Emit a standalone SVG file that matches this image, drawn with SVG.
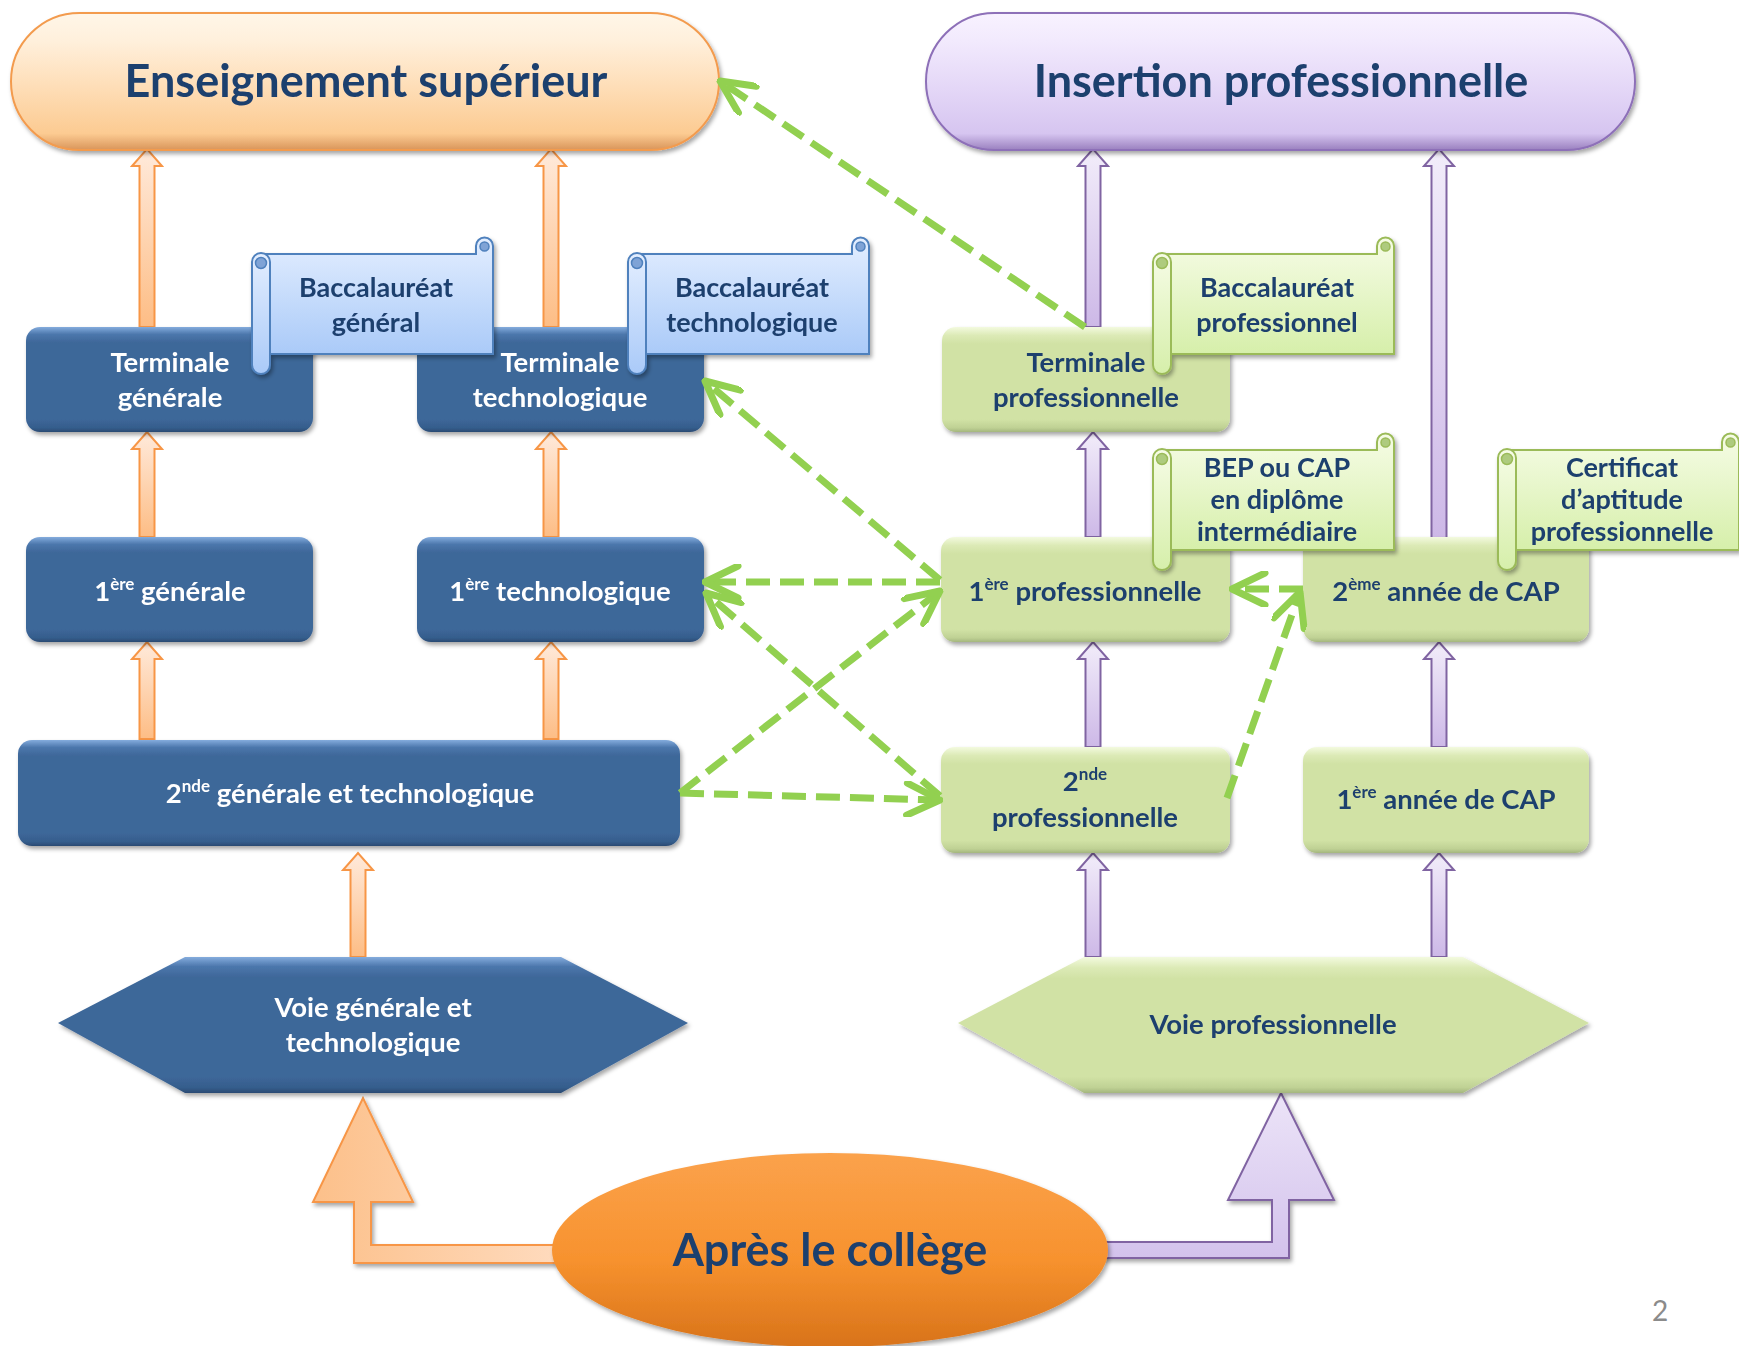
<svg xmlns="http://www.w3.org/2000/svg" width="1739" height="1346" viewBox="0 0 1739 1346">
<defs>
<style>
.t{font-family:Lato,"Open Sans","Liberation Sans",sans-serif;font-weight:bold;text-anchor:middle}
.tw{fill:#ffffff}
.td{fill:#1F3F6E}
.s26{font-size:27.5px}
.s25{font-size:27px}
.title{font-size:45px}
.sup{font-size:17px}
.dash{fill:none;stroke:#92D050;stroke-width:7;stroke-dasharray:24 10;marker-end:url(#ah)}
.ao{fill:url(#gArrO);stroke:#F79646;stroke-width:2}
.ap{fill:url(#gArrP);stroke:#8064A2;stroke-width:2}
.bb{fill:url(#gBlue)}
.bg{fill:url(#gGreen)}
</style>
<linearGradient id="gBlue" x1="0" y1="0" x2="0" y2="1">
<stop offset="0" stop-color="#84ACDD"/>
<stop offset="0.07" stop-color="#4C77AC"/>
<stop offset="0.15" stop-color="#3E6799"/>
<stop offset="0.88" stop-color="#3E6799"/>
<stop offset="0.96" stop-color="#355D8C"/>
<stop offset="1" stop-color="#2A4A72"/>
</linearGradient>
<linearGradient id="gGreen" x1="0" y1="0" x2="0" y2="1">
<stop offset="0" stop-color="#F3FADF"/>
<stop offset="0.08" stop-color="#DCEAB6"/>
<stop offset="0.16" stop-color="#D1E2A5"/>
<stop offset="0.88" stop-color="#D1E2A5"/>
<stop offset="0.96" stop-color="#BFD194"/>
<stop offset="1" stop-color="#A4B67E"/>
</linearGradient>
<linearGradient id="gScrB" x1="0" y1="0" x2="0" y2="1">
<stop offset="0" stop-color="#E3EEFF"/>
<stop offset="1" stop-color="#AACAF8"/>
</linearGradient>
<linearGradient id="gScrG" x1="0" y1="0" x2="0" y2="1">
<stop offset="0" stop-color="#F6FCE6"/>
<stop offset="1" stop-color="#D6EFAA"/>
</linearGradient>
<linearGradient id="gPillO" x1="0" y1="0" x2="0" y2="1">
<stop offset="0" stop-color="#FFF6E8"/>
<stop offset="0.2" stop-color="#FFF0DC"/>
<stop offset="0.55" stop-color="#FEDDB6"/>
<stop offset="0.88" stop-color="#FCCB92"/>
<stop offset="1" stop-color="#D9955A"/>
</linearGradient>
<linearGradient id="gPillP" x1="0" y1="0" x2="0" y2="1">
<stop offset="0" stop-color="#F8F2FF"/>
<stop offset="0.2" stop-color="#F2EAFD"/>
<stop offset="0.55" stop-color="#E4D7F7"/>
<stop offset="0.88" stop-color="#D6C5F0"/>
<stop offset="1" stop-color="#9A80BF"/>
</linearGradient>
<linearGradient id="gArrO" x1="0" y1="0" x2="0" y2="1">
<stop offset="0" stop-color="#FFEADB"/>
<stop offset="1" stop-color="#FDBD85"/>
</linearGradient>
<linearGradient id="gArrP" x1="0" y1="0" x2="0" y2="1">
<stop offset="0" stop-color="#F2EDFA"/>
<stop offset="1" stop-color="#CDB8E7"/>
</linearGradient>
<linearGradient id="gBigO" x1="0" y1="0" x2="1" y2="0">
<stop offset="0" stop-color="#FCC08A"/>
<stop offset="1" stop-color="#FFDDC2"/>
</linearGradient>
<linearGradient id="gBigP" x1="0" y1="0" x2="0" y2="1">
<stop offset="0" stop-color="#ECE4F8"/>
<stop offset="1" stop-color="#D3C2EC"/>
</linearGradient>
<linearGradient id="gEll" x1="0" y1="0" x2="0" y2="1">
<stop offset="0" stop-color="#FBA24C"/>
<stop offset="0.55" stop-color="#F7922E"/>
<stop offset="1" stop-color="#D8731A"/>
</linearGradient>
<filter id="sh" x="-5%" y="-10%" width="115%" height="130%">
<feDropShadow dx="2" dy="3" stdDeviation="2" flood-color="#000000" flood-opacity="0.35"/>
</filter>
<marker id="ah" viewBox="0 0 40 36" refX="37" refY="18" markerWidth="40" markerHeight="36" markerUnits="userSpaceOnUse" orient="auto">
<path d="M4,2 L37,18 L4,34" fill="none" stroke="#92D050" stroke-width="7" stroke-linecap="round" stroke-linejoin="round"/>
</marker>
<g id="scrollB">
<path d="M9,17 H224 V9 A8.5,8.5 0 0 1 241,9 V117 H9 Z" fill="url(#gScrB)" stroke="#4F81BD" stroke-width="2"/>
<circle cx="232.5" cy="9.5" r="4.5" fill="#7FA3D6" stroke="#4F81BD" stroke-width="1.5"/>
<rect x="0" y="16" width="18" height="121" rx="9" fill="url(#gScrB)" stroke="#4F81BD" stroke-width="2"/>
<circle cx="9" cy="26" r="5.5" fill="#7FA3D6" stroke="#4F81BD" stroke-width="1.5"/>
</g>
<g id="scrollG">
<path d="M9,17 H224 V9 A8.5,8.5 0 0 1 241,9 V117 H9 Z" fill="url(#gScrG)" stroke="#9BBB59" stroke-width="2"/>
<circle cx="232.5" cy="9.5" r="4.5" fill="#AECB7E" stroke="#9BBB59" stroke-width="1.5"/>
<rect x="0" y="16" width="18" height="121" rx="9" fill="url(#gScrG)" stroke="#9BBB59" stroke-width="2"/>
<circle cx="9" cy="26" r="5.5" fill="#AECB7E" stroke="#9BBB59" stroke-width="1.5"/>
</g>
</defs>

<rect x="0" y="0" width="1739" height="1346" fill="#FFFFFF"/>

<g id="connectors-block">
<path class="ao" d="M139.5,327 V166 H132 L147,149 L162,166 H154.5 V327 Z"/>
<path class="ao" d="M543.5,327 V166 H536 L551,149 L566,166 H558.5 V327 Z"/>
<path class="ao" d="M139.5,537 V449 H132 L147,432 L162,449 H154.5 V537 Z"/>
<path class="ao" d="M543.5,537 V449 H536 L551,432 L566,449 H558.5 V537 Z"/>
<path class="ao" d="M139.5,739 V659 H132 L147,642 L162,659 H154.5 V739 Z"/>
<path class="ao" d="M543.5,739 V659 H536 L551,642 L566,659 H558.5 V739 Z"/>
<path class="ao" d="M350.5,957 V870 H343 L358,853 L373,870 H365.5 V957 Z"/>
<path class="ap" d="M1085.5,327 V166 H1078 L1093,149 L1108,166 H1100.5 V327 Z"/>
<path class="ap" d="M1431.5,539 V166 H1424 L1439,149 L1454,166 H1446.5 V539 Z"/>
<path class="ap" d="M1085.5,537 V449 H1078 L1093,432 L1108,449 H1100.5 V537 Z"/>
<path class="ap" d="M1085.5,747 V659 H1078 L1093,642 L1108,659 H1100.5 V747 Z"/>
<path class="ap" d="M1431.5,747 V659 H1424 L1439,642 L1454,659 H1446.5 V747 Z"/>
<path class="ap" d="M1085.5,957 V870 H1078 L1093,853 L1108,870 H1100.5 V957 Z"/>
<path class="ap" d="M1431.5,957 V870 H1424 L1439,853 L1454,870 H1446.5 V957 Z"/>
<path d="M580,1245 H371 V1202 H413 L363,1098 L313,1202 H354 V1263 H580 Z" fill="url(#gBigO)" stroke="#F79646" stroke-width="2" filter="url(#sh)"/>
<path d="M1080,1242 H1272 V1200 H1228 L1281,1093 L1334,1200 H1289 V1258 H1080 Z" fill="url(#gBigP)" stroke="#8064A2" stroke-width="2" filter="url(#sh)"/>
</g>

<g id="enseignement-superieur" filter="url(#sh)">
<rect x="11" y="13" width="708" height="137" rx="68.5" fill="url(#gPillO)" stroke="#F39B4E" stroke-width="2"/>
<text x="366" y="97" class="t td title">Enseignement supérieur</text>
</g>
<g id="insertion-professionnelle" filter="url(#sh)">
<rect x="926" y="13" width="709" height="137" rx="68.5" fill="url(#gPillP)" stroke="#8D6FB8" stroke-width="2"/>
<text x="1281" y="97" class="t td title">Insertion professionnelle</text>
</g>

<g id="terminale-generale" filter="url(#sh)">
<rect x="26" y="327" width="287" height="105" rx="14" class="bb"/>
<text x="170" y="372" class="t tw s26">Terminale</text>
<text x="170" y="407" class="t tw s26">générale</text>
</g>
<g id="terminale-technologique" filter="url(#sh)">
<rect x="417" y="327" width="287" height="105" rx="14" class="bb"/>
<text x="560" y="372" class="t tw s26">Terminale</text>
<text x="560" y="407" class="t tw s26">technologique</text>
</g>
<g id="premiere-generale" filter="url(#sh)">
<rect x="26" y="537" width="287" height="105" rx="14" class="bb"/>
<text x="170" y="601" class="t tw s26">1<tspan class="sup" dy="-11">ère</tspan><tspan dy="11"> générale</tspan></text>
</g>
<g id="premiere-technologique" filter="url(#sh)">
<rect x="417" y="537" width="287" height="105" rx="14" class="bb"/>
<text x="560" y="601" class="t tw s26">1<tspan class="sup" dy="-11">ère</tspan><tspan dy="11"> technologique</tspan></text>
</g>
<g id="seconde-gt" filter="url(#sh)">
<rect x="18" y="740" width="662" height="106" rx="14" class="bb"/>
<text x="350" y="803" class="t tw s26">2<tspan class="sup" dy="-11">nde</tspan><tspan dy="11"> générale et technologique</tspan></text>
</g>
<g id="voie-gt" filter="url(#sh)">
<polygon points="58,1023 185,957 561,957 688,1023 561,1093 185,1093" class="bb"/>
<text x="373" y="1017" class="t tw s26">Voie générale et</text>
<text x="373" y="1052" class="t tw s26">technologique</text>
</g>

<g id="terminale-pro" filter="url(#sh)">
<rect x="942" y="327" width="288" height="105" rx="14" class="bg"/>
<text x="1086" y="372" class="t td s26">Terminale</text>
<text x="1086" y="407" class="t td s26">professionnelle</text>
</g>
<g id="premiere-pro" filter="url(#sh)">
<rect x="941" y="537" width="289" height="105" rx="14" class="bg"/>
<text x="1085" y="601" class="t td s26">1<tspan class="sup" dy="-11">ère</tspan><tspan dy="11"> professionnelle</tspan></text>
</g>
<g id="deuxieme-cap" filter="url(#sh)">
<rect x="1303" y="537" width="286" height="105" rx="14" class="bg"/>
<text x="1446" y="601" class="t td s26">2<tspan class="sup" dy="-11">ème</tspan><tspan dy="11"> année de CAP</tspan></text>
</g>
<g id="seconde-pro" filter="url(#sh)">
<rect x="941" y="747" width="289" height="106" rx="14" class="bg"/>
<text x="1085" y="791" class="t td s26">2<tspan class="sup" dy="-11">nde</tspan></text>
<text x="1085" y="827" class="t td s26">professionnelle</text>
</g>
<g id="premiere-cap" filter="url(#sh)">
<rect x="1303" y="747" width="286" height="106" rx="14" class="bg"/>
<text x="1446" y="809" class="t td s26">1<tspan class="sup" dy="-11">ère</tspan><tspan dy="11"> année de CAP</tspan></text>
</g>
<g id="voie-pro" filter="url(#sh)">
<polygon points="958,1023 1084,957 1463,957 1589,1023 1463,1093 1084,1093" class="bg"/>
<text x="1273" y="1034" class="t td s26">Voie professionnelle</text>
</g>

<g id="bac-general" filter="url(#sh)">
<use href="#scrollB" transform="translate(252,237)"/>
<text x="376" y="297" class="t td s25">Baccalauréat</text>
<text x="376" y="332" class="t td s25">général</text>
</g>
<g id="bac-techno" filter="url(#sh)">
<use href="#scrollB" transform="translate(628,237)"/>
<text x="752" y="297" class="t td s25">Baccalauréat</text>
<text x="752" y="332" class="t td s25">technologique</text>
</g>
<g id="bac-pro" filter="url(#sh)">
<use href="#scrollG" transform="translate(1153,237)"/>
<text x="1277" y="297" class="t td s25">Baccalauréat</text>
<text x="1277" y="332" class="t td s25">professionnel</text>
</g>
<g id="bep-cap" filter="url(#sh)">
<use href="#scrollG" transform="translate(1153,433)"/>
<text x="1277" y="477" class="t td s25">BEP ou CAP</text>
<text x="1277" y="509" class="t td s25">en diplôme</text>
<text x="1277" y="541" class="t td s25">intermédiaire</text>
</g>
<g id="cap-certificat" filter="url(#sh)">
<use href="#scrollG" transform="translate(1498,433)"/>
<text x="1622" y="477" class="t td s25">Certificat</text>
<text x="1622" y="509" class="t td s25">d’aptitude</text>
<text x="1622" y="541" class="t td s25">professionnelle</text>
</g>

<g id="apres-college" filter="url(#sh)">
<ellipse cx="830" cy="1250" rx="278" ry="97" fill="url(#gEll)"/>
<text x="830" y="1266" class="t td title">Après le collège</text>
</g>

<g id="connectors-dashed">
<path class="dash" d="M940,580 L705,381"/>
<path class="dash" d="M940,582 L705,582"/>
<path class="dash" d="M940,796 L706,593"/>
<path class="dash" d="M680,793 L940,591"/>
<path class="dash" d="M680,793 L940,800"/>
<path class="dash" d="M1303,589 L1232,589"/>
<path class="dash" d="M1227,798 L1300,592"/>
<path class="dash" d="M1085,327 L720,81"/>
</g>

<text x="1660" y="1321" style="font-family:Lato,'Open Sans','Liberation Sans',sans-serif;font-size:28px;fill:#8B8B8B;text-anchor:middle">2</text>
</svg>
